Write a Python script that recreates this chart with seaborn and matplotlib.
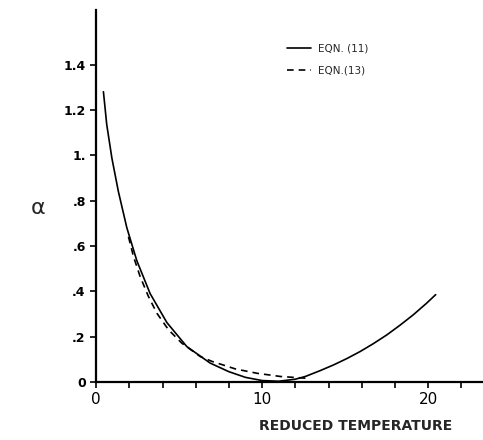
import matplotlib.pyplot as plt
import seaborn as sns
import pandas as pd

# values
t_11 = [0.44, 0.64, 0.95, 1.34, 1.85, 2.45, 3.25, 4.26, 5.46, 6.87, 8.0, 9.0, 10.0, 11.0, 12.0,
        12.6, 13.5, 14.3, 15.1, 15.9, 16.7, 17.5, 18.3, 19.1, 19.9, 20.45]
a_11 = [1.28, 1.135, 0.987, 0.84, 0.68, 0.535, 0.39, 0.262, 0.156, 0.083, 0.045, 0.02, 0.006, 0.003, 0.012,
        0.024, 0.05, 0.075, 0.103, 0.134, 0.169, 0.207, 0.25, 0.296, 0.347, 0.385]

t_13 = [1.95, 2.25, 2.65, 3.15, 3.66, 4.36, 5.16, 6.27, 7.0, 8.4, 9.7, 11.1, 12.7]
a_13 = [0.64, 0.553, 0.465, 0.377, 0.303, 0.23, 0.171, 0.112, 0.09, 0.057, 0.038, 0.024, 0.016]

xticks = [0, 2, 4, 6, 8, 10, 12, 14, 16, 18, 20, 22]
xlabels = ['0', '', '', '', '', '10', '', '', '', '', '20', '']
yticks = [0, 0.2, 0.4, 0.6, 0.8, 1.0, 1.2, 1.4]
ylabels = ['0', '.2', '.4', '.6', '.8', '1.', '1.2', '1.4']

df11 = pd.DataFrame({'t': t_11, 'a': a_11})
df13 = pd.DataFrame({'t': t_13, 'a': a_13})

sns.set_style('ticks')
fig = plt.figure(figsize=(4.83, 4.40), dpi=100)
ax = fig.add_axes([0.199, 0.132, 0.801, 0.845])

sns.lineplot(data=df11, x='t', y='a', ax=ax, color='black', linewidth=1.2, label='EQN. (11)', sort=False)
sns.lineplot(data=df13, x='t', y='a', ax=ax, color='black', linewidth=1.2, dashes=False, label='EQN.(13)', sort=False)
ax.lines[1].set_dashes([4, 3])

ax.set_xlim(0, 23.3)
ax.set_ylim(0, 1.64)
ax.set_xticks(xticks)
ax.set_xticklabels(xlabels, fontsize=11)
ax.set_yticks(yticks)
ax.set_yticklabels(ylabels, fontsize=9, fontweight='bold')
sns.despine(ax=ax)
for s in ['left', 'bottom']:
    ax.spines[s].set_linewidth(1.6)
    ax.spines[s].set_color('black')
ax.tick_params(colors='black', width=1.2, length=4)

ax.set_xlabel('REDUCED TEMPERATURE', fontsize=10, fontweight='bold')
ax.xaxis.set_label_coords(0.67, -0.1)
ax.set_ylabel('α', fontsize=16, rotation=0)
ax.yaxis.set_label_coords(-0.15, 0.44)

leg = ax.legend(loc='upper left', bbox_to_anchor=(0.47, 0.935), frameon=False, fontsize=7.5,
                handlelength=2.3, handletextpad=0.6, labelspacing=1.15)
leg.get_lines()[1].set_dashes([4, 3])

fig.savefig('out.png', dpi=100)
